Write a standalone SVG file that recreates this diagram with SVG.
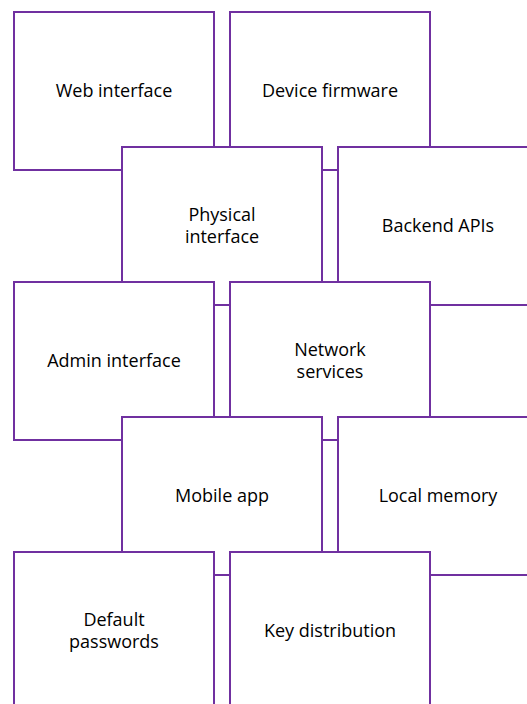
<svg xmlns="http://www.w3.org/2000/svg" width="527" height="704" viewBox="0 0 527 704">
<style>
rect.n{fill:#fff;stroke:#7030A0;stroke-width:2}
text{font-family:"Open Sans","Noto Sans",sans-serif;font-size:18px;fill:#000;text-anchor:middle;dominant-baseline:central}
</style>
<rect width="527" height="704" fill="#fff"/>
<g id="connectors"></g>
<g id="web"><rect class="n" x="14" y="12" width="200" height="158"/><text x="114" y="90">Web interface</text></g>
<g id="firmware"><rect class="n" x="230" y="12" width="200" height="158"/><text x="330" y="90">Device firmware</text></g>
<g id="physical"><rect class="n" x="122" y="147" width="200" height="158"/><text x="222" y="214">Physical<tspan x="222" dy="22">interface</tspan></text></g>
<g id="backend"><rect class="n" x="338" y="147" width="200" height="158"/><text x="438" y="225">Backend APIs</text></g>
<g id="admin"><rect class="n" x="14" y="282" width="200" height="158"/><text x="114" y="360">Admin interface</text></g>
<g id="network"><rect class="n" x="230" y="282" width="200" height="158"/><text x="330" y="349">Network<tspan x="330" dy="22">services</tspan></text></g>
<g id="mobile"><rect class="n" x="122" y="417" width="200" height="158"/><text x="222" y="495">Mobile app</text></g>
<g id="memory"><rect class="n" x="338" y="417" width="200" height="158"/><text x="438" y="495">Local memory</text></g>
<g id="passwords"><rect class="n" x="14" y="552" width="200" height="158"/><text x="114" y="619">Default<tspan x="114" dy="22">passwords</tspan></text></g>
<g id="keys"><rect class="n" x="230" y="552" width="200" height="158"/><text x="330" y="630">Key distribution</text></g>
</svg>
